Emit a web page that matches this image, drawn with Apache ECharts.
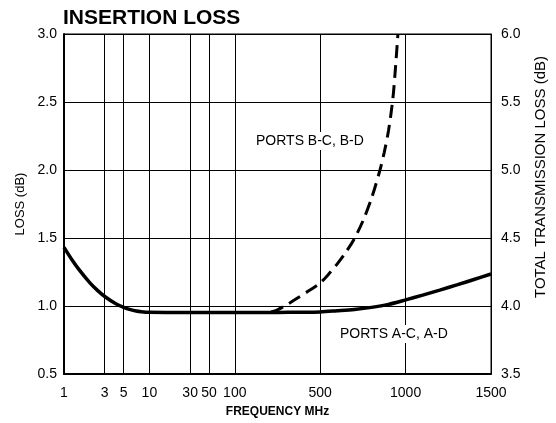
<!DOCTYPE html>
<html><head><meta charset="utf-8">
<script src="https://cdn.jsdelivr.net/npm/echarts@6/dist/echarts.min.js"></script>
<style>html,body{margin:0;padding:0;background:#fff}#c{width:556px;height:423px}</style>
</head><body><div id="c"></div>
<script>
// Tick labels on the frequency axis (MHz)
const tickFreqs = [1, 3, 5, 10, 30, 50, 100, 500, 1000, 1500];
// Ports A-C, A-D (solid)
const acFreq = [1, 1.25, 1.5, 2, 2.5, 3, 4, 5, 6, 7, 8, 10, 20, 50, 100, 200, 300, 400, 500, 600, 700, 800, 900, 1000, 1100, 1200, 1300, 1400, 1500];
const acLoss = [1.431, 1.336, 1.267, 1.172, 1.111, 1.07, 1.018, 0.99, 0.973, 0.963, 0.958, 0.954, 0.953, 0.953, 0.953, 0.953, 0.953, 0.954, 0.956, 0.965, 0.975, 0.99, 1.012, 1.045, 1.08, 1.117, 1.155, 1.195, 1.235];
// Ports B-C, B-D (dashed)
const bcFreq = [270, 300, 350, 400, 450, 500, 550, 600, 650, 700, 750, 800, 850, 875, 900, 925, 940, 955];
const bcLoss = [0.956, 0.972, 1.015, 1.065, 1.115, 1.17, 1.235, 1.31, 1.395, 1.495, 1.625, 1.79, 2.0, 2.13, 2.29, 2.52, 2.74, 3.0];

// The chart's frequency scale: logarithmic up to 100 MHz, then linear segments 100-500, 500-1000, 1000-1500
function toPos(f) {
  if (f <= 100) return Math.log10(f);
  if (f <= 500) return 2 + (f - 100) / 400;
  return 3 + (f - 500) / 500;
}
const tickPos = tickFreqs.map(toPos);
const FONT = 'Liberation Sans, Arial, Helvetica, sans-serif';

const chart = echarts.init(document.getElementById('c'), null, {renderer: 'canvas'});
chart.setOption({
  animation: false,
  backgroundColor: '#fff',
  title: {
    text: 'INSERTION LOSS', left: 58, top: 3,
    textStyle: {fontFamily: FONT, fontSize: 21, fontWeight: 'bold', color: '#000'}
  },
  grid: {left: 64, right: 64, top: 34, bottom: 48, show: true, borderColor: '#000', borderWidth: 1, backgroundColor: 'transparent'},
  xAxis: {
    type: 'value', min: 0, max: 5,
    name: 'FREQUENCY MHz', nameLocation: 'middle', nameGap: 32,
    nameTextStyle: {fontFamily: FONT, fontSize: 12, fontWeight: 'bold', color: '#000'},
    axisLine: {show: true, lineStyle: {color: '#000', width: 2}},
    axisTick: {show: false, customValues: tickPos},
    axisLabel: {
      customValues: tickPos, margin: 12, color: '#000', fontFamily: FONT, fontSize: 14,
      formatter: v => { const i = tickPos.findIndex(p => Math.abs(p - v) < 1e-6); return i >= 0 ? String(tickFreqs[i]) : ''; }
    },
    splitLine: {show: true, lineStyle: {color: '#000', width: 1}}
  },
  yAxis: [{
    type: 'value', min: 0.5, max: 3.0, interval: 0.5, position: 'left',
    name: 'LOSS (dB)', nameLocation: 'middle', nameGap: 37, nameRotate: 90,
    nameTextStyle: {fontFamily: FONT, fontSize: 13, color: '#000'},
    axisLine: {show: true, lineStyle: {color: '#000', width: 2}},
    axisTick: {show: false},
    axisLabel: {color: '#000', fontFamily: FONT, fontSize: 14, margin: 7, formatter: v => v.toFixed(1)},
    splitLine: {show: true, lineStyle: {color: '#000', width: 1}}
  }, {
    type: 'value', min: 3.5, max: 6.0, interval: 0.5, position: 'right',
    name: 'TOTAL TRANSMISSION LOSS (dB)', nameLocation: 'middle', nameGap: 42, nameRotate: 90,
    nameTextStyle: {fontFamily: FONT, fontSize: 15, color: '#000', padding: [0, 0, 0, 54]},
    axisLine: {show: true, lineStyle: {color: '#000', width: 1}},
    axisTick: {show: false},
    axisLabel: {color: '#000', fontFamily: FONT, fontSize: 14, margin: 10, formatter: v => v.toFixed(1)},
    splitLine: {show: false}
  }],
  graphic: [
    {type: 'text', left: 254, top: 132, z: 10, style: {text: 'PORTS B-C, B-D', fontFamily: FONT, fontSize: 14, fill: '#000', backgroundColor: '#fff', padding: [2, 2, 2, 2]}},
    {type: 'text', left: 338, top: 325, z: 10, style: {text: 'PORTS A-C, A-D', fontFamily: FONT, fontSize: 14, fill: '#000', backgroundColor: '#fff', padding: [2, 2, 2, 2]}}
  ],
  series: [{
    type: 'line', name: 'PORTS A-C, A-D', yAxisIndex: 0,
    data: acFreq.map((f, i) => [toPos(f), acLoss[i]]),
    smooth: 0.3, symbol: 'none',
    lineStyle: {color: '#000', width: 3.5}
  }, {
    type: 'line', name: 'PORTS B-C, B-D', yAxisIndex: 0,
    data: bcFreq.map((f, i) => [toPos(f), bcLoss[i]]),
    smooth: 0.3, symbol: 'none',
    lineStyle: {color: '#000', width: 3, type: [13, 7]}
  }]
});
</script></body></html>
